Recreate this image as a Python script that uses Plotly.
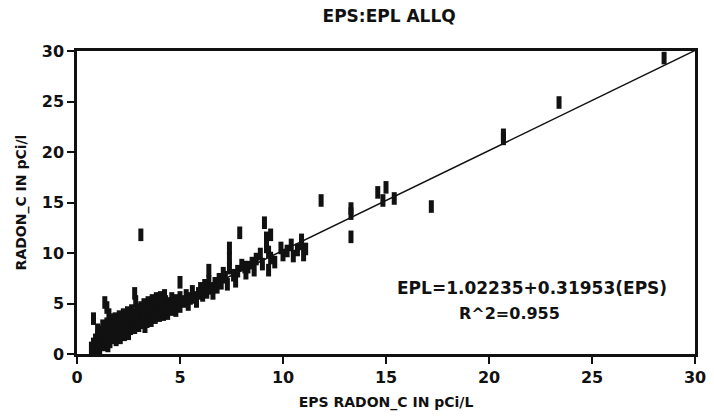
import plotly.graph_objects as go

# EPS radon (x) vs EPL radon (y), pCi/L
eps = [0.7, 0.8, 0.9, 0.9, 1.0, 1.0, 1.1, 1.1, 1.2, 1.2, 1.3, 1.3, 1.4, 1.4, 1.5, 1.5,
       0.8, 1.35, 1.45, 1.55, 1.6,
       1.6, 1.6, 1.7, 1.7, 1.8, 1.8, 1.9, 1.9, 2.0, 2.0, 2.1, 2.1, 2.2, 2.2, 2.3, 2.3, 2.4, 2.4, 2.5, 2.5,
       2.6, 2.6, 2.7, 2.7, 2.8, 2.85, 2.9, 3.0, 3.1, 2.8, 2.9, 3.0, 3.1, 3.1, 3.2, 3.2, 3.3, 3.3, 3.4, 3.4, 3.5, 3.5,
       3.6, 3.7, 3.7, 3.8, 3.9, 4.0, 4.0, 4.1, 4.2, 4.2, 4.3, 4.4, 4.4, 4.5, 4.6, 4.6, 4.7, 4.8, 4.8, 4.9, 5.0, 5.0, 5.0,
       5.2, 5.3, 5.4, 5.5, 5.6, 5.7, 5.8, 5.9, 6.0, 6.1, 6.2, 6.3, 6.4, 6.5, 6.6, 6.7, 6.8, 6.9, 7.0,
       7.2, 7.3, 7.4, 7.4, 7.4, 7.6, 7.7, 7.8, 7.9, 8.0, 8.2, 8.3, 8.5, 8.6, 8.7, 8.9, 9.0, 9.1,
       9.2, 9.2, 9.3, 9.4, 9.6, 9.9, 10.0, 10.2, 10.4, 10.5, 10.7, 10.9, 11.0, 11.1,
       6.4, 7.1, 8.15, 9.3, 9.4, 10.9,
       1.0, 1.25, 1.45, 1.65, 1.85, 2.05, 2.25, 2.45, 2.65, 3.25, 3.45, 3.65, 3.85, 4.05, 4.25,
       11.85, 13.3, 13.3, 13.3, 14.6, 14.85, 15.0, 15.4, 17.2, 20.7, 20.7, 23.4, 28.5]
epl = [0.6, 1.0, 0.4, 1.4, 0.8, 1.8, 1.2, 0.5, 1.6, 2.2, 0.9, 1.9, 1.3, 2.5, 1.7, 0.8,
       3.5, 5.1, 4.6, 3.9, 3.3,
       2.1, 1.2, 2.6, 1.6, 2.0, 2.9, 1.4, 2.4, 3.1, 1.9, 2.6, 1.6, 2.2, 3.3, 2.8, 1.9, 2.4, 3.6, 2.9, 2.0,
       3.4, 2.5, 3.0, 3.9, 6.0, 5.2, 4.4, 4.1, 11.8, 2.6, 3.3, 2.8, 3.8, 4.6, 3.1, 4.0, 3.5, 2.7, 4.2, 3.2, 3.7, 4.6,
       3.3, 4.1, 4.9, 3.6, 4.4, 3.8, 5.0, 4.3, 4.8, 3.9, 5.2, 4.5, 4.0, 5.0, 4.4, 5.5, 4.8, 5.3, 4.3, 5.0, 7.1, 5.6, 4.7,
       5.2, 5.8, 4.9, 5.5, 6.2, 5.6, 5.2, 6.0, 6.5, 5.8, 6.8, 6.1, 7.2, 6.5, 6.0, 7.0, 6.6, 7.4, 7.0,
       7.6, 6.9, 8.5, 9.5, 10.5, 7.8, 7.2, 8.2, 12.0, 8.8, 8.0, 8.6, 9.0, 8.3, 9.4, 9.9, 8.9, 13.0,
       11.5, 10.6, 10.1, 9.5, 9.1, 10.5, 9.8, 10.2, 10.8, 9.7, 10.3, 10.9, 9.8, 10.4,
       8.3, 8.0, 8.6, 8.3, 11.8, 11.3,
       2.4, 2.8, 3.0, 3.4, 3.5, 3.7, 3.9, 4.1, 4.3, 4.9, 5.1, 5.3, 5.5, 5.6, 5.8,
       15.2, 14.4, 13.9, 11.6, 16.0, 15.2, 16.5, 15.4, 14.6, 21.7, 21.3, 24.9, 29.3]

# fitted line as drawn on the chart
fit_intercept = 0.35
fit_slope = 0.99
fit_x = [0.7, 30.0]
fit_y = [fit_intercept + fit_slope * v for v in fit_x]

title = "EPS:EPL ALLQ"
x_title = "EPS RADON_C IN pCi/L"
y_title = "RADON_C IN pCi/l"
eq_text = "EPL=1.02235+0.31953(EPS)"
r2_text = "R^2=0.955"
ticks = [0, 5, 10, 15, 20, 25, 30]

font = "DejaVu Sans"
ink = "#111111"

fig = go.Figure()
fig.add_trace(go.Scatter(
    x=fit_x, y=fit_y, mode="lines",
    line=dict(color=ink, width=1.5), showlegend=False, hoverinfo="skip"))
fig.add_trace(go.Scatter(
    x=eps, y=epl, mode="markers",
    marker=dict(symbol="line-ns", size=9, line=dict(color=ink, width=5)),
    showlegend=False))

axis_common = dict(
    range=[0, 30], tickvals=ticks, showgrid=False, zeroline=False,
    showline=True, linecolor=ink, linewidth=2.5, mirror=True,
    ticks="outside", ticklen=7, tickwidth=2, tickcolor=ink,
    tickfont=dict(family=font, size=16, color=ink, weight="bold"),
    automargin=False,
)

fig.update_layout(
    width=714, height=416,
    margin=dict(l=77, r=19, t=51, b=62),
    paper_bgcolor="white", plot_bgcolor="white",
    title=dict(text=title, x=0.545, xanchor="center", y=0.962, yanchor="middle",
               font=dict(family=font, size=17, color=ink, weight="bold")),
    xaxis=dict(**axis_common,
               title=dict(text=x_title, standoff=12,
                          font=dict(family=font, size=14, color=ink, weight="bold"))),
    yaxis=dict(**axis_common,
               title=dict(text=y_title, standoff=12,
                          font=dict(family=font, size=14, color=ink, weight="bold"))),
    annotations=[
        dict(text=eq_text, x=0.736, y=0.218, xref="paper", yref="paper",
             xanchor="center", yanchor="middle",
             showarrow=False, font=dict(family=font, size=17, color=ink, weight="bold")),
        dict(text=r2_text, x=0.70, y=0.135, xref="paper", yref="paper",
             xanchor="center", yanchor="middle",
             showarrow=False, font=dict(family=font, size=16, color=ink, weight="bold")),
    ],
)

fig.write_html("out.html")
